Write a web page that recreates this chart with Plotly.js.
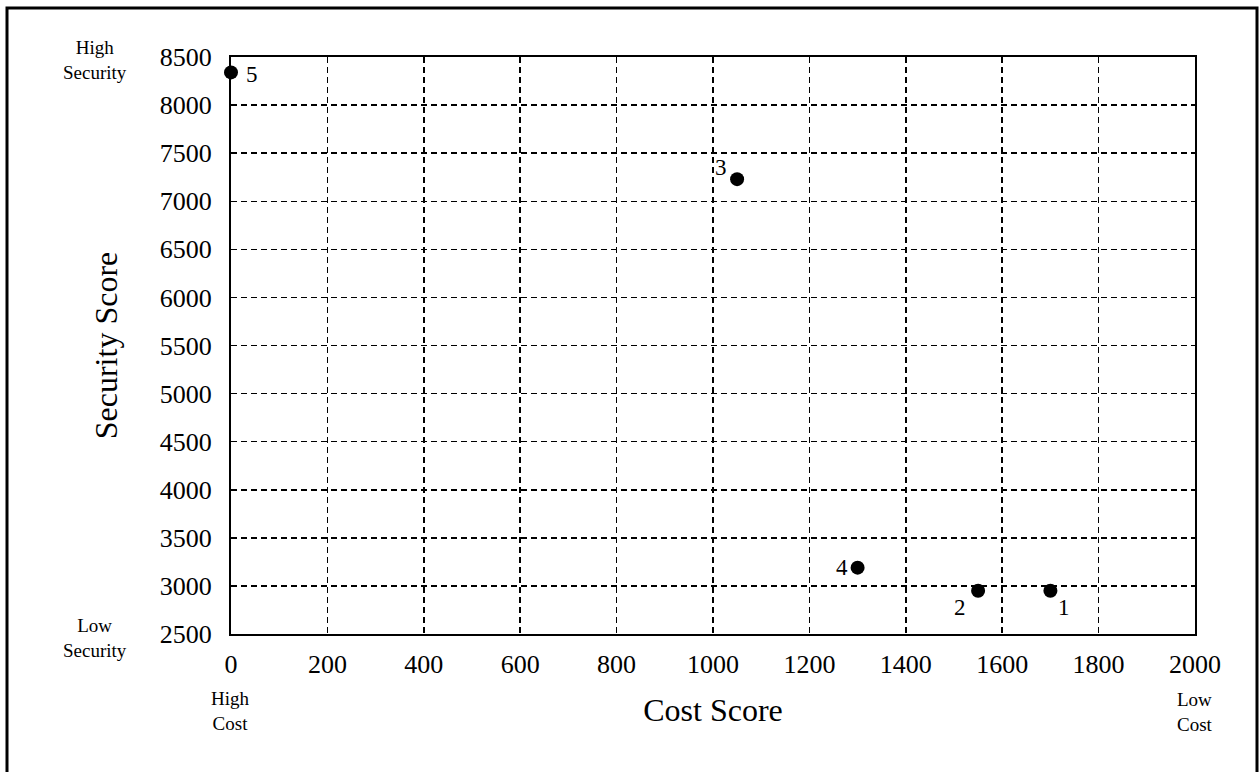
<!DOCTYPE html>
<html>
<head>
<meta charset="utf-8">
<script src="https://cdn.plot.ly/plotly-3.0.1.min.js"></script>
<style>html,body{margin:0;padding:0;background:#fff;}#chart{width:1260px;height:772px;}</style>
</head>
<body>
<div id="chart"></div>
<script>
const pointLabels = ["1", "2", "3", "4", "5"];
const costScore = [1700, 1550, 1050, 1300, 0];
const securityScore = [2950, 2950, 7230, 3190, 8340];
const xTickValues = [0, 200, 400, 600, 800, 1000, 1200, 1400, 1600, 1800, 2000];
const yTickValues = [2500, 3000, 3500, 4000, 4500, 5000, 5500, 6000, 6500, 7000, 7500, 8000, 8500];

// label placement (style, pixels relative to each marker)
const labelShiftX = [14, -18, -16, -16, 21];
const labelShiftY = [-17, -17, 12, 0, -2];

const serif = "Liberation Serif, Times New Roman, serif";

const trace = {
  x: costScore,
  y: securityScore,
  mode: "markers",
  type: "scatter",
  marker: {color: "#000", size: 14},
  cliponaxis: false,
  hoverinfo: "skip"
};

const pointAnnotations = pointLabels.map((t, i) => ({
  x: costScore[i], y: securityScore[i], xref: "x", yref: "y",
  text: t, showarrow: false,
  xshift: labelShiftX[i], yshift: labelShiftY[i],
  font: {family: serif, size: 23, color: "#000"}
}));

const sideNotes = [
  {x: (95 - 231) / 964, y: (634 - 60) / 577, text: "High<br>Security"},
  {x: (95 - 231) / 964, y: (634 - 638) / 577, text: "Low<br>Security"},
  {x: (230 - 231) / 964, y: (634 - 711) / 577, text: "High<br>Cost"},
  {x: (1195 - 231) / 964, y: (634 - 712) / 577, text: "Low<br>Cost"}
].map(a => Object.assign({xref: "paper", yref: "paper", showarrow: false, align: "center",
  xanchor: "center", yanchor: "middle", font: {family: serif, size: 19, color: "#000"}}, a));

const layout = {
  width: 1260,
  height: 772,
  margin: {l: 231, r: 65, t: 57, b: 138},
  paper_bgcolor: "#fff",
  plot_bgcolor: "#fff",
  showlegend: false,
  font: {family: serif, color: "#000"},
  xaxis: {
    range: [0, 2000],
    tickvals: xTickValues,
    ticktext: xTickValues.map(String),
    tickfont: {family: serif, size: 26, color: "#000"},
    ticks: "",
    ticklabelstandoff: 6,
    showgrid: true,
    gridcolor: "#000",
    gridwidth: 1.5,
    griddash: "6px,4px",
    showline: true,
    linecolor: "#000",
    linewidth: 2,
    mirror: true,
    zeroline: false,
    title: {text: "Cost Score", font: {family: serif, size: 32, color: "#000"}, standoff: 20}
  },
  yaxis: {
    range: [2500, 8500],
    tickvals: yTickValues,
    ticktext: yTickValues.map(String),
    tickfont: {family: serif, size: 26, color: "#000"},
    ticks: "",
    ticklabelstandoff: 12,
    showgrid: true,
    gridcolor: "#000",
    gridwidth: 1.5,
    griddash: "6px,4px",
    showline: true,
    linecolor: "#000",
    linewidth: 2,
    mirror: true,
    zeroline: false,
    title: {text: "Security Score", font: {family: serif, size: 32, color: "#000"}, standoff: 33}
  },
  annotations: pointAnnotations.concat(sideNotes),
  shapes: [
    {type: "rect", xref: "paper", yref: "paper", x0: (7 - 231) / 964, x1: (1257 - 231) / 964, y0: (634 - 800) / 577, y1: (634 - 8) / 577, line: {color: "#000", width: 3}, layer: "below"}
  ]
};

Plotly.newPlot("chart", [trace], layout, {displayModeBar: false, staticPlot: true});
</script>
</body>
</html>
